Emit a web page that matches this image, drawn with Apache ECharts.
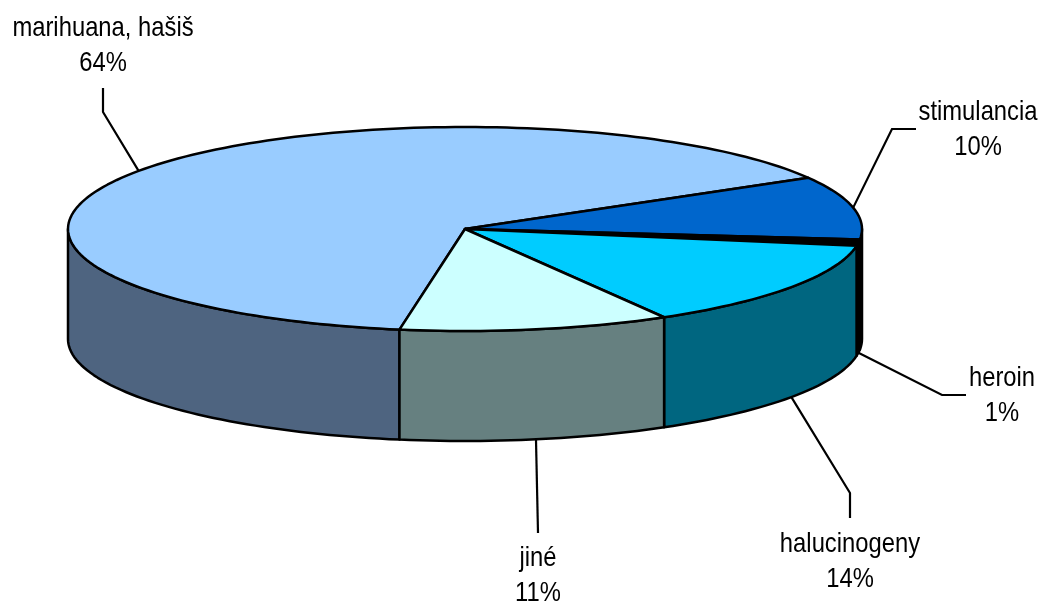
<!DOCTYPE html>
<html>
<head>
<meta charset="utf-8">
<script src="https://cdn.jsdelivr.net/npm/echarts@6/dist/echarts.min.js"></script>
<style>html,body{margin:0;padding:0;background:#fff}#chart{width:1047px;height:604px}</style>
</head>
<body>
<div id="chart"></div>
<script>
// ---- data ----
var categories = ['marihuana, hašiš', 'stimulancia', 'heroin', 'halucinogeny', 'jiné'];
var values = [64, 10, 1, 14, 11];
var percentLabels = ['64%', '10%', '1%', '14%', '11%'];

// ---- styles / layout ----
var topColors = ['#99CCFF', '#0066CC', '#000000', '#00CCFF', '#CCFFFF'];
var sideColors = ['#4E6480', '#003366', '#000000', '#006680', '#668080'];
var labelCenters = [[103, 46], [978, 130], [1002, 396], [850, 562], [538, 576]];
var leaderBends = [
  [[103, 112], [103, 88]],
  [[892, 129], [916, 129]],
  [[942, 395], [966, 395]],
  [[850, 493], [850, 518]],
  [[538, 533]]
];
var geo = { cx: 465, cy: 229, rx: 397, ry: 102, depth: 110, startAngle: 99.5 };
var FONT = '"Liberation Sans", Arial, sans-serif';
var TEXT_SCALE_X = 0.85;

var total = values.reduce(function (a, b) { return a + b; }, 0);
function sliceAngles(i) {
  var acc = 0;
  for (var k = 0; k < i; k++) acc += values[k];
  var a0 = geo.startAngle + acc / total * 360;
  var a1 = a0 + values[i] / total * 360;
  return [a0, a1];
}
function pt(deg, dy) {
  var r = deg * Math.PI / 180;
  return [geo.cx + geo.rx * Math.cos(r), geo.cy + geo.ry * Math.sin(r) + (dy || 0)];
}
function arc(a0, a1, dy) {
  var pts = [];
  var n = Math.max(2, Math.ceil(Math.abs(a1 - a0) / 1.5));
  for (var j = 0; j <= n; j++) pts.push(pt(a0 + (a1 - a0) * j / n, dy));
  return pts;
}

var seriesData = values.map(function (v, i) { return { name: categories[i], value: v }; });

function renderSide(params, api) {
  var i = params.dataIndex;
  var a = sliceAngles(i);
  var children = [];
  [[-360, -180], [0, 180], [360, 540]].forEach(function (w) {
    var s = Math.max(a[0], w[0]), e = Math.min(a[1], w[1]);
    if (e > s) {
      var top = arc(s, e, 0);
      var bot = arc(e, s, geo.depth);
      children.push({
        type: 'polygon',
        shape: { points: top.concat(bot) },
        style: { fill: sideColors[i], stroke: '#000', lineWidth: 2.5, lineJoin: 'round' }
      });
    }
  });
  return { type: 'group', children: children };
}

function renderTop(params, api) {
  var i = params.dataIndex;
  var a = sliceAngles(i);
  var pts = [[geo.cx, geo.cy]].concat(arc(a[0], a[1], 0));
  return {
    type: 'polygon',
    shape: { points: pts },
    style: { fill: topColors[i], stroke: '#000', lineWidth: 2.5, lineJoin: 'round' }
  };
}

function renderLabel(params, api) {
  var i = params.dataIndex;
  var a = sliceAngles(i);
  var mid = (a[0] + a[1]) / 2;
  var front = Math.sin(mid * Math.PI / 180) > 0;
  var anchor = pt(mid, front ? geo.depth : 0);
  var c = labelCenters[i];
  return {
    type: 'group',
    children: [
      {
        type: 'polyline',
        shape: { points: [anchor].concat(leaderBends[i]) },
        style: { stroke: '#000', lineWidth: 2.2, fill: null }
      },
      {
        type: 'text',
        x: c[0], y: c[1],
        scaleX: TEXT_SCALE_X,
        style: {
          text: categories[i] + '\n' + percentLabels[i],
          font: '28px ' + FONT,
          fill: '#000',
          align: 'center',
          verticalAlign: 'middle',
          lineHeight: 35
        }
      }
    ]
  };
}

var chart = echarts.init(document.getElementById('chart'), null, { renderer: 'canvas' });
chart.setOption({
  backgroundColor: '#ffffff',
  animation: false,
  series: [
    { type: 'custom', name: 'sides', coordinateSystem: 'none', z: 1, data: seriesData, renderItem: renderSide, silent: true },
    { type: 'custom', name: 'tops', coordinateSystem: 'none', z: 2, data: seriesData, renderItem: renderTop, silent: true },
    { type: 'custom', name: 'labels', coordinateSystem: 'none', z: 3, data: seriesData, renderItem: renderLabel, silent: true }
  ]
});
</script>
</body>
</html>
